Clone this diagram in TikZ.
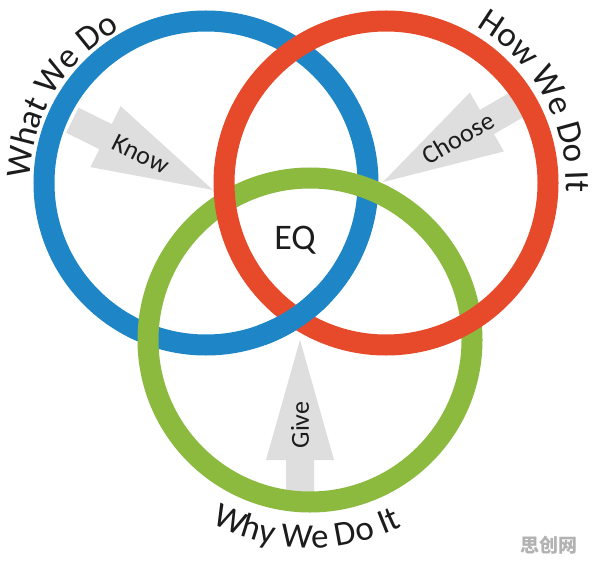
\documentclass[tikz,border=0pt]{standalone}
\usepackage{fontspec}
\setmainfont{Carlito}
\newfontfamily\cjkwm{Noto Sans CJK SC}
\usetikzlibrary{decorations.text}
\definecolor{ringblue}{HTML}{1E86C6}
\definecolor{ringred}{HTML}{E64A2B}
\definecolor{ringgreen}{HTML}{8BBA3F}
\definecolor{arrowgray}{HTML}{DEDEDE}
\definecolor{textdark}{HTML}{1C1C1C}
\tikzset{
  ring/.style={line width=21pt},
  bigarrow/.style={fill=arrowgray, draw=none},
  armlabel/.style={font=\fontsize{26}{26}\selectfont, text=textdark, inner sep=0pt},
  arclabel/.style={decorate, decoration={text along path, text align=center, text color=textdark}},
}
\newcommand{\bigfnt}{\fontsize{35}{35}\selectfont}
\begin{document}
\begin{tikzpicture}[x=1pt,y=1pt]
\useasboundingbox (0,0) rectangle (596,563);
\fill[white] (0,0) rectangle (596,563);
% centres
\coordinate (cb) at (206,380);
\coordinate (cr) at (386,380);
\coordinate (cg) at (310,223);
% arrows (tip at local origin, pointing +x)
\coordinate (tipknow) at (213,373);
\coordinate (tipchoose) at (383,381);
\coordinate (tipgive) at (300,223);
\foreach \tip/\ang in {tipknow/-26.4, tipchoose/210, tipgive/90}{
  \fill[bigarrow, shift={(\tip)}, rotate=\ang]
    (0,0) -- (-120,34) -- (-120,14) -- (-157,14) -- (-157,-14) -- (-120,-14) -- (-120,-34) -- cycle;
}
% rings
\draw[ring, ringblue] (cb) circle[radius=162];
\draw[ring, ringgreen] (cg) circle[radius=162];
\draw[ring, ringred] (cr) circle[radius=162];
% blue passes over red at the lower crossing
\draw[ring, ringblue] (cb) ++(-70:162) arc[start angle=-70, end angle=-44, radius=162];
% arrow labels
\node[armlabel, rotate=-26.4] (know) at (141,409) {Know};
\node[armlabel, rotate=30] (choose) at (458,425) {Choose};
\node[armlabel, rotate=90] (give) at (300,138) {Give};
\node[font=\fontsize{36}{36}\selectfont, text=textdark] (eq) at (295,323) {EQ};
% circle labels
\path[arclabel, decoration={text={|\bigfnt|What We Do}}]
  (cb) ++(190:176) arc[start angle=190, end angle=108, radius=176];
\path[arclabel, decoration={text={|\bigfnt|How We Do It}}]
  (cr) ++(80:180) arc[start angle=80, end angle=-23, radius=180];
\path[arclabel, decoration={text={|\bigfnt|Why We Do It}}]
  (cg) ++(-141:208) arc[start angle=-141, end angle=-41, radius=208];
% watermark
\node[font=\cjkwm\bfseries\fontsize{19}{19}\selectfont, text=black!30] (wm) at (549,18) {思创网};
\end{tikzpicture}
\end{document}
